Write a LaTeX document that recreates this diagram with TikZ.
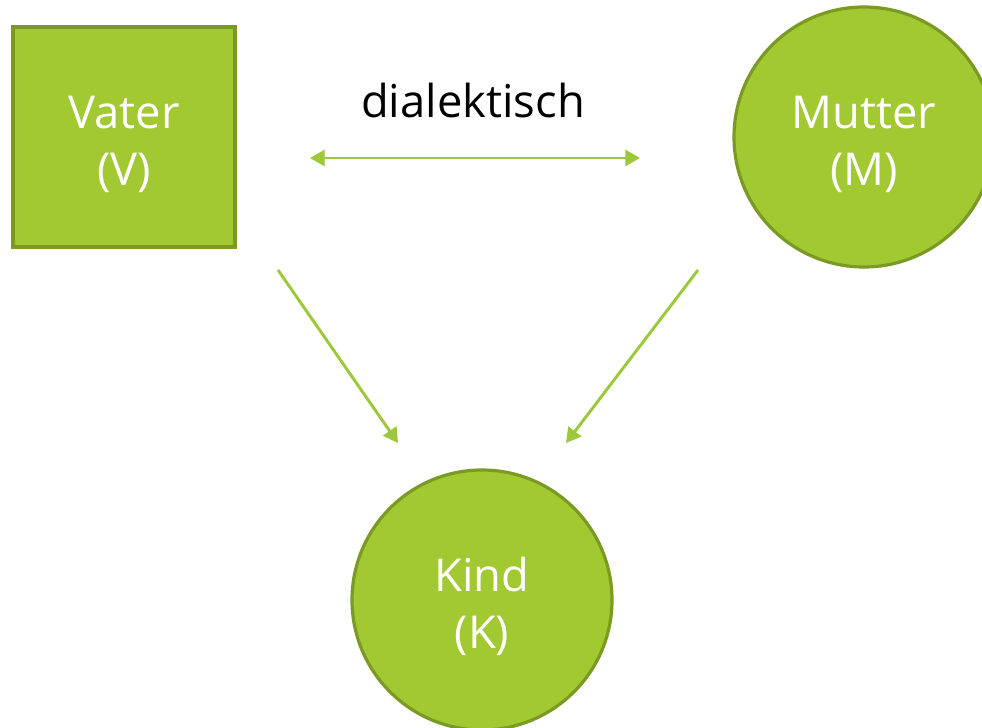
\documentclass[tikz,border=0pt]{standalone}
\usepackage{fontspec}
\setmainfont{Open Sans}
\usetikzlibrary{arrows.meta}
\definecolor{gruen}{HTML}{A2C832}
\definecolor{rand}{HTML}{7A9A24}
\definecolor{pfeilgruen}{HTML}{9CC83A}
% Text etwas tiefer setzen als die Mitte der Form
\newcommand{\zweizeilen}[2]{\rule{0pt}{35pt}#1\\#2}
\tikzset{
  knoten/.style={draw=rand, line width=2.4pt, fill=gruen, text=white,
    align=center, font=\fontsize{34}{43}\selectfont, inner sep=0pt},
  pfeil/.style={draw=pfeilgruen, line width=2.2pt, -{Triangle[length=11pt,width=12pt]}}
}
\begin{document}
\begin{tikzpicture}[x=0.75pt,y=-0.75pt]
\useasboundingbox (0,0) rectangle (982,728);
\begin{scope}
\clip (0,0) rectangle (982,728);
\node[knoten, rectangle, minimum width=166.5pt, minimum height=165pt] (V) at (124,137) {\zweizeilen{Vater}{(V)}};
\node[knoten, circle, minimum size=195pt] (M) at (864,137) {\zweizeilen{Mutter}{(M)}};
\node[knoten, circle, minimum size=195pt] (K) at (482,600) {\zweizeilen{Kind}{(K)}};
\end{scope}
\node[font=\fontsize{34}{40}\selectfont] (d) at (473,100) {dialektisch};

\coordinate (dl) at (310,158);
\coordinate (dr) at (640,158);
\coordinate (vs) at (278,270);
\coordinate (ms) at (698,270);
\coordinate (kl) at (398,443);
\coordinate (kr) at (566,443);

\path[pfeil,{Triangle[length=11pt,width=12pt]}-{Triangle[length=11pt,width=12pt]}] (dl) -- (dr);
\path[pfeil] (vs) -- (kl);
\path[pfeil] (ms) -- (kr);
\end{tikzpicture}
\end{document}
